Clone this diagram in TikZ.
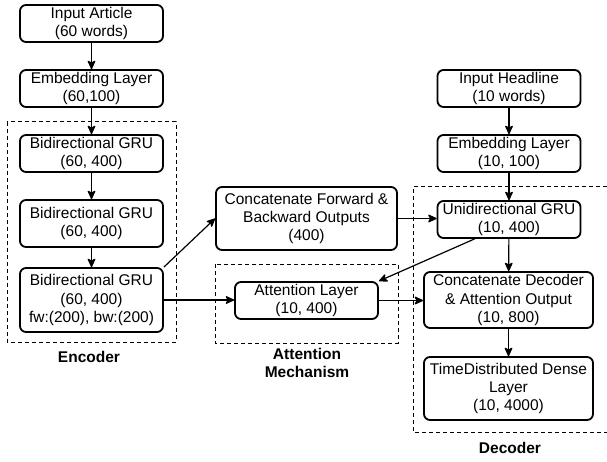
\documentclass[tikz,border=0pt]{standalone}
\usepackage{fontspec}
\setmainfont{Liberation Sans}
\usetikzlibrary{arrows.meta}

\begin{document}
\begin{tikzpicture} [x=1pt, y=-1pt,
 layer/.style={draw, line width=1.8pt, rounded corners=6pt, align=center, inner sep=0pt,
  minimum width=143pt, minimum height=37pt, font=\fontsize{15.5}{18.3}\selectfont},
 flow/.style={draw=black, line width=1.2pt, arrows={-Stealth[length=10pt, width=9pt, inset=2.5pt, round=false]}},
 group/.style={draw, line width=1pt, dash pattern=on 4pt off 3pt},
 grouplabel/.style={align=center, font=\fontsize{15.5}{18.3}\selectfont\bfseries}]
\useasboundingbox (0,0) rectangle (607,462);

\draw[group] (7,122) rectangle (176,342);
\draw[group] (215,264) rectangle (398,343);
\draw[group] (607,187) -| (413,432) -- (607,432);

\node[layer] (article) at (91.5,23.5) {Input Article\\(60 words)};
\node[layer] (embenc) at (91.5,88.5) {Embedding Layer\\(60,100)};
\node[layer] (gru1) at (91.5,153.5) {Bidirectional GRU\\(60, 400)};
\node[layer, minimum height=47pt] (gru2) at (91.5,223.5) {Bidirectional GRU\\(60, 400)};
\node[layer, minimum height=64pt] (gru3) at (91.5,300) {Bidirectional GRU\\(60, 400)\\fw:(200), bw:(200)};

\node[layer, minimum width=181pt, minimum height=63pt] (concat) at (306.5,218.5) {Concatenate Forward \&\\Backward Outputs\\(400)};
\node[layer] (attn) at (306.5,300.5) {Attention Layer\\(10, 400)};

\node[layer] (headline) at (509,88.5) {Input Headline\\(10 words)};
\node[layer] (embdec) at (509,153.5) {Embedding Layer\\(10, 100)};
\node[layer] (uni) at (509,219.5) {Unidirectional GRU\\(10, 400)};
\node[layer, minimum width=169pt, minimum height=56pt] (catdec) at (508.5,300) {Concatenate Decoder\\\& Attention Output\\(10, 800)};
\node[layer, minimum width=169pt, minimum height=63pt] (dense) at (508.5,388.5) {TimeDistributed Dense\\Layer\\(10, 4000)};

\node[grouplabel] (enclabel) at (89,357) {Encoder};
\node[grouplabel] (attlabel) at (307,363) {Attention\\Mechanism};
\node[grouplabel] (declabel) at (510,448) {Decoder};

\draw[flow] (article) -- (embenc);
\draw[flow] (embenc) -- (gru1);
\draw[flow] (gru1) -- (gru2);
\draw[flow] (gru2) -- (gru3);
\draw[flow] (gru3.north east) -- (concat.west);
\draw[flow] (gru3.east) -- (gru3.east -| attn.west);
\draw[flow] (concat.east) -- (concat.east -| uni.west);
\draw[flow] ([xshift=38pt]uni.south west) -- (attn.north east);
\draw[flow] (attn.east) -- (attn.east -| catdec.west);
\draw[flow] (headline) -- (embdec);
\draw[flow] (embdec) -- (uni);
\draw[flow] (uni) -- (catdec);
\draw[flow] (catdec) -- (dense);
\end{tikzpicture}
\end{document}
